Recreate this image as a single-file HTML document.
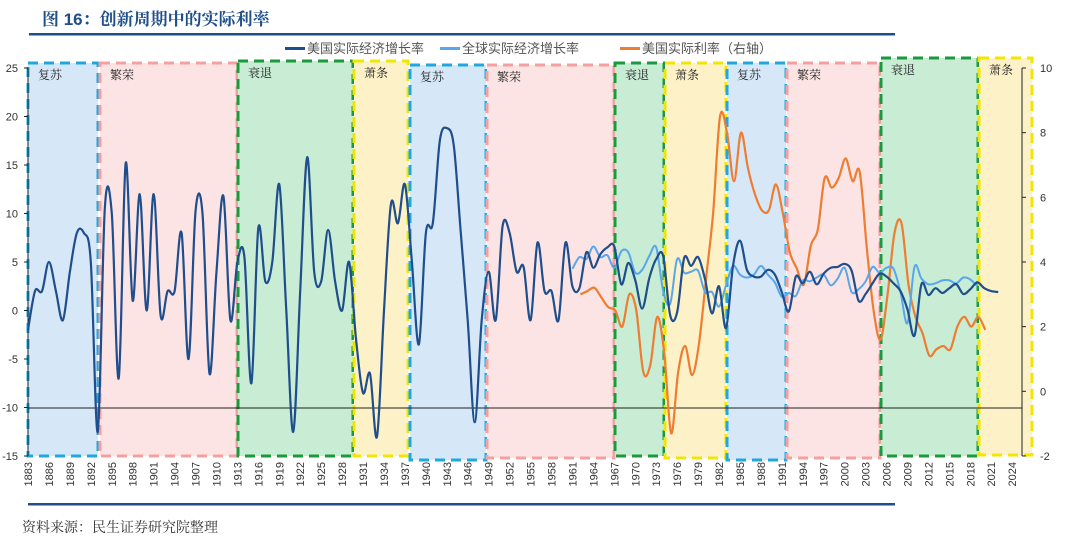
<!DOCTYPE html>
<html><head><meta charset="utf-8"><style>
body{margin:0;background:#fff;width:1080px;height:546px;overflow:hidden;font-family:"Liberation Sans","Noto Sans CJK SC",sans-serif}
svg{position:absolute;left:0;top:0}
</style></head><body>
<svg id="s" width="1080" height="546" xmlns="http://www.w3.org/2000/svg">
<text x="42" y="25" font-size="17" font-weight="bold" fill="#1f4e8c" font-family="Liberation Sans,Noto Serif CJK SC,serif">图 16：创新周期中的实际利率</text>
<rect x="29" y="33" width="866" height="2.5" fill="#1f4e8c"/>
<rect x="28" y="503" width="867" height="2.5" fill="#1f4e8c"/>
<text x="22" y="532" font-size="14" fill="#333" font-family="Liberation Serif,Noto Serif CJK SC,serif">资料来源：民生证券研究院整理</text>
<g font-size="13" fill="#555">
<rect x="285" y="47" width="20" height="3" fill="#1f4e8c"/><text x="307" y="53">美国实际经济增长率</text>
<rect x="440" y="47" width="20" height="3" fill="#5aa6ea"/><text x="462" y="53">全球实际经济增长率</text>
<rect x="620" y="47" width="20" height="3" fill="#ee7d31"/><text x="642" y="53">美国实际利率（右轴）</text>
</g>
<g id="reg"></g>
<g id="ax"></g>
<g id="ln"></g>
</svg>
<script>
const NS="http://www.w3.org/2000/svg";
function el(p,t,a,txt){const e=document.createElementNS(NS,t);for(const k in a)e.setAttribute(k,a[k]);if(txt!==undefined)e.textContent=String(txt);p.appendChild(e);return e}
const reg=document.getElementById('reg'),ax=document.getElementById('ax'),ln=document.getElementById('ln');
const C={b:['#d6e8f8','#1fa8e0'],p:['#fce4e4','#f4a0a0'],g:['#c8ecd4','#1a9a3c'],y:['#fdf1c8','#f2e600']};
const R=[[28,98,'b','复苏',63,456],[100,237,'p','繁荣',63,456],[238,353,'g','衰退',61,456],[354,408,'y','萧条',61,456],
[410,486,'b','复苏',65,460],[487,614,'p','繁荣',65,458],[615,664,'g','衰退',63,456],[665,726,'y','萧条',63,458],
[727,786,'b','复苏',63,460],[787,880,'p','繁荣',63,458],[881,978,'g','衰退',58,456],[979,1032,'y','萧条',58,455]];
R.forEach(r=>{el(reg,'rect',{x:r[0],y:r[4],width:r[1]-r[0],height:r[5]-r[4],fill:C[r[2]][0],stroke:C[r[2]][1],'stroke-width':3,'stroke-dasharray':'10 6'});
el(reg,'text',{x:r[0]+10,y:r[4]+16,'font-size':12,fill:'#222','font-family':'Noto Serif CJK SC,serif'},r[3]);});
const y0=310.5,k=9.7;
el(ax,'line',{x1:28,y1:68,x2:28,y2:456,stroke:'#222'});
for(let v=25;v>=-15;v-=5){const y=y0-v*k;el(ax,'text',{x:18,y:y+4,'font-size':11,fill:'#333','text-anchor':'end'},v);el(ax,'line',{x1:24,y1:y,x2:28,y2:y,stroke:'#222'});}
el(ax,'line',{x1:28,y1:408,x2:1022,y2:408,stroke:'#222'});
el(ax,'line',{x1:1022,y1:68,x2:1022,y2:456,stroke:'#222'});
for(let v=10;v>=-2;v-=2){const y=391.3-v*32.33;el(ax,'text',{x:1040,y:y+4,'font-size':11,fill:'#333'},v);el(ax,'line',{x1:1022,y1:y,x2:1026,y2:y,stroke:'#222'});}
const X=yr=>28+(yr-1883)*6.98;
for(let yr=1883;yr<=2024;yr+=3){el(ax,'text',{transform:`translate(${X(yr)+4},462) rotate(-90)`,'font-size':11,fill:'#333','text-anchor':'end'},yr);}
function path(pts,col,w){let d=`M${pts[0][0]},${pts[0][1]}`;for(let i=0;i<pts.length-1;i++){const p0=pts[i-1]||pts[i],p1=pts[i],p2=pts[i+1],p3=pts[i+2]||p2;
d+=` C${(p1[0]+(p2[0]-p0[0])/6).toFixed(1)},${(p1[1]+(p2[1]-p0[1])/6).toFixed(1)} ${(p2[0]-(p3[0]-p1[0])/6).toFixed(1)},${(p2[1]-(p3[1]-p1[1])/6).toFixed(1)} ${p2[0].toFixed(1)},${p2[1].toFixed(1)}`;}
el(ln,'path',{d,fill:'none',stroke:col,'stroke-width':w});}
const us=[-2,2,2,5,2,-1,4,8,8,5,-12.5,10.5,10,-7,15.2,1,12,0,12,-0.5,2,2,8,-5,10.2,10,-6.5,4,11.8,-1,5,5.5,-7.5,8.5,3,5,13,0,-12.5,2,15.8,4,3,8.3,3,0,5,-3,-8.5,-6.5,-13,0,11,9,13,5,-3.5,8,9,17.5,18.8,17,8,-1,-11.5,-1,4,-1,8.7,8,4,4.5,-1,7,2,2,-1,7,2.5,2.3,6,4.4,5.8,6.5,6.6,2.7,4.9,3.1,0.2,3.3,5.3,5.6,-0.5,-0.2,5.4,4.6,5.5,3.2,-0.3,2.5,-1.8,4.6,7.2,4.2,3.5,3.5,4.2,3.7,1.9,-0.1,3.5,2.8,4,2.7,3.8,4.4,4.5,4.8,4.1,1,1.7,2.8,3.8,3.5,2.8,2,0.1,-2.6,2.7,1.6,2.3,1.8,2.3,2.7,1.7,2.2,2.9,2.3,2,1.9];
const gl=[4.3,5.5,5.3,6.6,5.5,5.7,4.4,6.1,6,3.9,4.2,5.6,6.5,2,0.7,5.3,3.9,4,4.1,1.9,1.9,0.4,2.6,4.6,3.7,3.4,3.7,4.6,3.7,2.9,1.4,1.8,1.5,3.1,3,3.4,3.7,2.6,3.3,4.4,1.9,2.2,3,4.5,3.9,4.4,4.3,1.9,-1.3,4.5,3.3,2.7,2.8,3.1,3.1,2.8,3.4,3.2,2.5];
const rr=[3.0,3.1,3.2,2.9,2.6,2.5,2.0,3.0,2.5,0.6,0.8,2.3,1.2,-1.3,0.6,1.4,0.5,1.5,3.5,5.5,8.5,8.0,6.5,8.0,6.9,6.1,5.6,5.6,6.4,5.5,4.3,3.8,3.3,4.5,5.0,6.6,6.3,6.6,7.2,6.5,6.8,4.5,2.5,1.6,3.0,4.9,5.2,3.3,2.3,1.8,1.1,1.3,1.4,1.3,2.0,2.3,2.0,2.3,1.9];
path(rr.map((v,i)=>[X(1961+i)+8,391.3-v*32.33]),'#ee7d31',2.2);
path(gl.map((v,i)=>[X(1961+i),y0-v*k]),'#5aa6ea',2);
path(us.map((v,i)=>[X(1883+i),y0-v*k]),'#1f4e8c',2.2);
</script>
</body></html>
